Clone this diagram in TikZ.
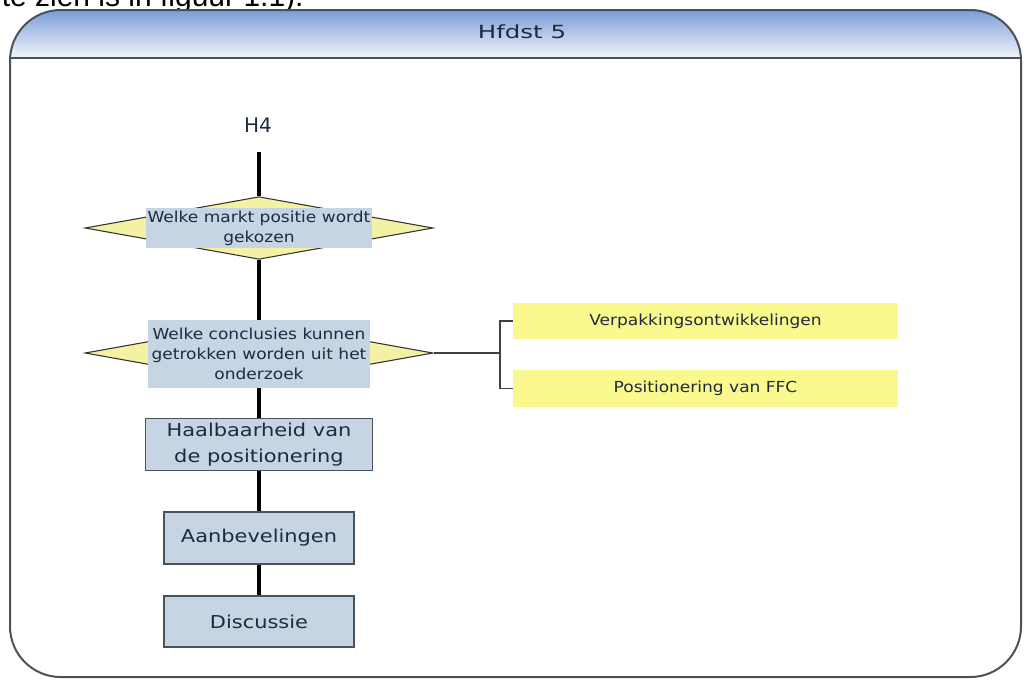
\documentclass[tikz,border=0pt]{standalone}
\usepackage{fontspec}
\setmainfont{DejaVu Sans}
\newfontfamily\bodyfont{Liberation Sans}
\newfontfamily\titlefont[FakeStretch=1.35]{DejaVu Sans}
\newfontfamily\labelfont[FakeStretch=1.12]{DejaVu Sans}
\newfontfamily\boxfont[FakeStretch=1.18]{DejaVu Sans}
\usetikzlibrary{shapes.geometric,backgrounds}
\definecolor{ink}{HTML}{1E2B3C}
\definecolor{framegrey}{HTML}{4A535C}
\definecolor{headtop}{HTML}{7A9DD8}
\definecolor{headbot}{HTML}{F2F5FB}
\definecolor{boxblue}{HTML}{C7D4E4}
\definecolor{diayellow}{HTML}{F4F0A4}
\definecolor{noteyellow}{HTML}{FAF98E}
\tikzset{
  flowline/.style={line width=3pt,black},
  sideline/.style={line width=1.1pt,draw=black!75},
  decision/.style={diamond,draw=black!80,line width=0.8pt,fill=diayellow,inner sep=0pt,
    minimum width=261pt,minimum height=47pt},
  question/.style={fill=boxblue,text=ink,font=\labelfont\fontsize{11.4}{15}\selectfont,align=center,inner sep=0pt},
  stepbox/.style={rectangle,draw=framegrey,line width=1.2pt,fill=boxblue,text=ink,
    font=\boxfont\fontsize{13.3}{20}\selectfont,align=center,inner sep=0pt},
  notebox/.style={rectangle,fill=noteyellow,text=ink,font=\labelfont\fontsize{11.4}{13}\selectfont,
    inner sep=0pt,minimum width=288.75pt,minimum height=27.5pt}
}
\begin{document}
\begin{tikzpicture}[x=0.75pt,y=-0.75pt]
\useasboundingbox (0,0) rectangle (1024,679);
\clip (0,0) rectangle (1024,679);

% last line of the running text above the figure
\node[anchor=base west,inner sep=0pt,font=\bodyfont\fontsize{22.5}{26}\selectfont] (runtext) at (1.5,6.7) {te zien is in figuur 1.1).};

% frame with shaded header band
\begin{scope}
  \clip[rounded corners=38] (10,10) rectangle (1021,677);
  \shade[top color=headtop,bottom color=headbot] (10,10) rectangle (1021,58);
\end{scope}
\draw[framegrey,line width=1.5pt,rounded corners=38] (10,10) rectangle (1021,677);
\draw[framegrey,line width=1.5pt] (10,58) -- (1021,58);
\node[text=ink,font=\titlefont\fontsize{13.6}{16}\selectfont] (title) at (522,32) {Hfdst 5};

% flow chart
\node[text=ink,font=\fontsize{15}{18}\selectfont] (h4) at (258,125) {H4};
\coordinate (start) at (259,152);

\node[decision] (d1shape) at (259,228) {};
\node[question,minimum width=169.5pt,minimum height=30pt] (d1) at (259,228)
  {Welke markt positie wordt\\gekozen};

\node[decision] (d2shape) at (259,353) {};
\node[question,minimum width=166pt,minimum height=51pt] (d2) at (259,354)
  {Welke conclusies kunnen\\getrokken worden uit het\\onderzoek};

\node[stepbox,minimum width=170pt,minimum height=39pt] (haal) at (259,444.5)
  {Haalbaarheid van\\de positionering};
\node[stepbox,minimum width=142.5pt,minimum height=39pt] (aanb) at (259,538) {Aanbevelingen};
\node[stepbox,minimum width=142.5pt,minimum height=38.5pt] (disc) at (259,621.5) {Discussie};

% side branch
\node[notebox] (verp) at (705.5,321) {Verpakkingsontwikkelingen};
\node[notebox] (posi) at (705.5,388.5) {Positionering van FFC};
\coordinate (branch) at (500,353);

\begin{scope}[on background layer]
  \draw[flowline] (start) -- (d1shape.north);
  \draw[flowline] (d1shape.south) -- (d2shape.north);
  \draw[flowline] (d2shape.south) -- (haal.north);
  \draw[flowline] (haal.south) -- (aanb.north);
  \draw[flowline] (aanb.south) -- (disc.north);
  \draw[sideline] (d2shape.east) -- (branch);
  \draw[sideline] (verp.west) -| (branch) |- (posi.west);
\end{scope}
\end{tikzpicture}
\end{document}
